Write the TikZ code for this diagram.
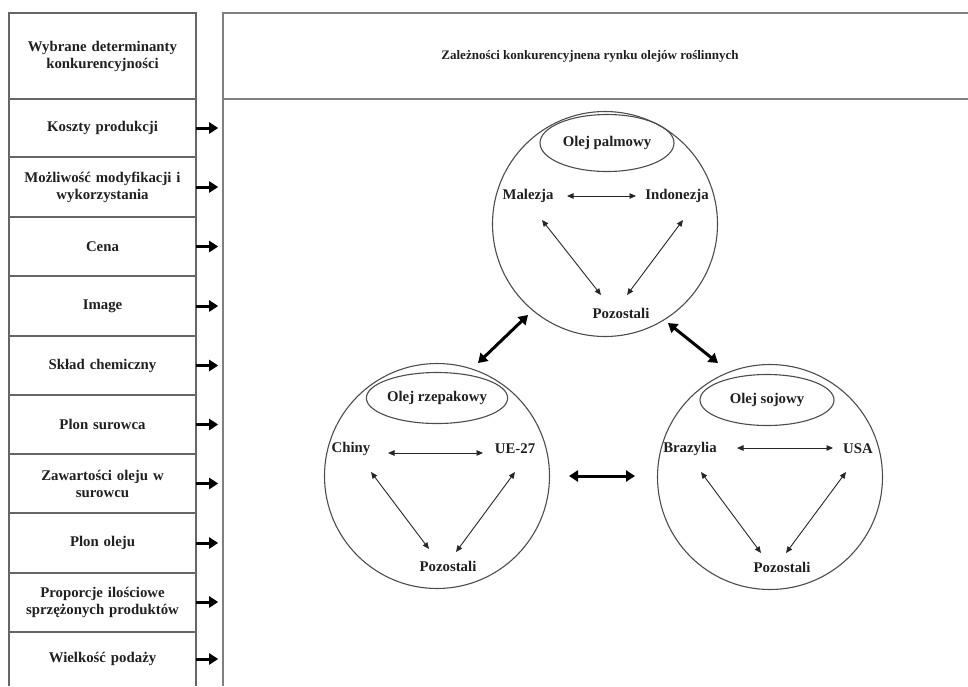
\documentclass[tikz,border=0pt]{standalone}
\usepackage{fontspec}
\setmainfont{Liberation Serif}
\usetikzlibrary{arrows.meta,shapes.geometric,calc}
\begin{document}
\begin{tikzpicture}[x=1pt,y=-1pt,
  every node/.style={font=\bfseries\fontsize{14.8}{17}\selectfont, text=black!88},
  cell/.style={minimum width=187pt, minimum height=59pt, inner sep=0pt, align=center, text width=184pt},
  frame/.style={draw=black!50, line width=1.6pt},
  sep/.style={draw=black!60, line width=1.1pt},
  sidearr/.style={-{Triangle[length=9pt,width=11pt]}, line width=3pt, black},
  smallarr/.style={{Triangle[length=6.5pt,width=5.5pt]}-{Triangle[length=6.5pt,width=5.5pt]}, line width=0.9pt, black!85},
  bigarr/.style={{Triangle[length=9pt,width=11pt]}-{Triangle[length=9pt,width=11pt]}, line width=3pt, black},
  oil/.style={circle, draw=black!70, line width=1.1pt, minimum size=225pt, inner sep=0pt},
  oilname/.style={ellipse, draw=black!70, line width=1.1pt, minimum width=134pt, minimum height=51pt, inner sep=0pt},
]
\useasboundingbox (0,0) rectangle (968,686);

% left column frame
\draw[sep] (9,686) -- (9,13) -- (196,13) -- (196,686);
\foreach \yy in {99,157,217,276,336,395,454,513,573,632}
  \draw[sep] (9,\yy) -- (196,\yy);

% right panel frame
\draw[frame] (223,686) -- (223,13) -- (968,13);
\draw[frame] (223,99) -- (968,99);

% headers
\node[cell] (h0) at (102.5,56) {Wybrane determinanty\\konkurencyjności};
\node[font=\bfseries\fontsize{13}{16}\selectfont] (title) at (590,56) {Zależności konkurencyjnena rynku olejów roślinnych};

% determinants
\node[cell] (r1) at (102.5,128) {Koszty produkcji};
\node[cell] (r2) at (102.5,187) {Możliwość modyfikacji i\\wykorzystania};
\node[cell] (r3) at (102.5,246.5) {Cena};
\node[cell] (r4) at (102.5,306) {Image};
\node[cell] (r5) at (102.5,365.5) {Skład chemiczny};
\node[cell] (r6) at (102.5,424.5) {Plon surowca};
\node[cell] (r7) at (102.5,483.5) {Zawartości oleju w\\surowcu};
\node[cell] (r8) at (102.5,543) {Plon oleju};
\node[cell] (r9) at (102.5,602) {Proporcje ilościowe\\sprzężonych produktów};
\node[cell] (r10) at (102.5,659) {Wielkość podaży};
\foreach \r in {r1,r2,r3,r4,r5,r6,r7,r8,r9,r10}
  \draw[sidearr] (\r.east) -- ++(22,0);

% top circle: palm oil
\node[oil] (c1) at (605,224) {};
\node[oilname, minimum height=57pt] (e1) at (607,143) {Olej palmowy};
\node (mal) at (528,196) {Malezja};
\node (ind) at (677,196) {Indonezja};
\node (p1) at (621,313) {Pozostali};
\draw[smallarr] ($(mal)+(39,0)$) -- ($(ind)+(-41,0)$);
\draw[smallarr] ($(mal)+(14,24)$) -- ($(p1)+(-20,-18)$);
\draw[smallarr] ($(ind)+(6,24)$) -- ($(p1)+(6,-18)$);

% left circle: rapeseed oil
\node[oil] (c2) at (437,476) {};
\node[oilname] (e2) at (437,398) {Olej rzepakowy};
\node (chi) at (351,449) {Chiny};
\node (ue) at (515,449) {UE-27};
\node (p2) at (448,566) {Pozostali};
\draw[smallarr] ($(chi)+(37,4)$) -- ($(ue)+(-32,4)$);
\draw[smallarr] ($(chi)+(20,23)$) -- ($(p2)+(-19,-17)$);
\draw[smallarr] ($(ue)+(0,23)$) -- ($(p2)+(8,-14)$);

% right circle: soybean oil
\node[oil] (c3) at (770,477) {};
\node[oilname] (e3) at (767,400) {Olej sojowy};
\node (bra) at (690,449) {Brazylia};
\node (usa) at (858,449) {USA};
\node (p3) at (782,567) {Pozostali};
\draw[smallarr] ($(bra)+(47,-1)$) -- ($(usa)+(-25,-1)$);
\draw[smallarr] ($(bra)+(11,23)$) -- ($(p3)+(-21,-14)$);
\draw[smallarr] ($(usa)+(-12,23)$) -- ($(p3)+(4,-14)$);

% relations between oils
\draw[bigarr] ($(c2)+(41,-113)$) -- ($(c1)+(-77,91)$);
\draw[bigarr] ($(c1)+(63,99)$) -- ($(c3)+(-52,-114)$);
\draw[bigarr] ($(c2)+(132,0)$) -- ($(c3)+(-135,-1)$);
\end{tikzpicture}
\end{document}
